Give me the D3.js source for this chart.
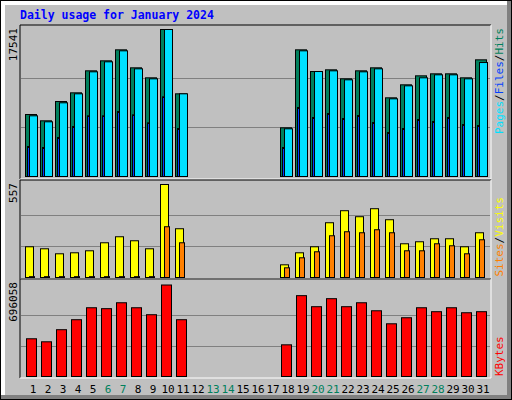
<!DOCTYPE html>
<html><head><meta charset="utf-8">
<script src="https://cdn.jsdelivr.net/npm/d3@7"></script>
<style>body{margin:0;background:#fff}text{font-family:"DejaVu Sans Mono",monospace}</style>
</head><body><div id="chart"></div>
<script>
// daily values, null = no data
const days = d3.range(1, 32);
const weekends = [6, 7, 13, 14, 20, 21, 27, 28];
const hits = [7397,6645,8948,9985,12610,13803,15115,12968,11775,17541,9866,null,null,null,null,null,null,5810,15115,12527,12729,11656,12610,12968,9389,10940,12013,12252,12252,11775,13922];
const files = [7241,6526,8792,9866,12491,13684,14996,12849,11656,17541,9866,null,null,null,null,null,null,5691,14996,12527,12610,11536,12491,12849,9270,10820,11775,12133,12133,11656,13600];
const pages = [3579,3460,4653,5965,7241,7241,7755,7361,6406,9508,5726,null,null,null,null,null,null,3460,8232,7039,7516,6919,7277,6442,5249,5726,6800,6562,7039,6204,6084];
const visits = [184,172,142,148,160,208,244,220,172,557,292,null,null,null,null,null,null,76,148,184,328,400,364,412,346,202,214,232,232,184,268];
const sites = [5,5,5,5,5,5,5,5,5,304,208,null,null,null,null,null,null,58,118,154,250,274,268,286,268,160,160,202,190,142,226];
const kbytes = [287000,264000,356000,432000,523000,516000,561000,523000,470000,696058,432000,null,null,null,null,null,null,241000,615000,531000,592000,531000,561000,500000,401000,447000,523000,493000,523000,485000,493000];

const W = 512, H = 400;
const svg = d3.select("#chart").append("svg").attr("width", W).attr("height", H);

// outer frame with bevel
svg.append("rect").attr("width", W).attr("height", H).attr("fill", "#000");
svg.append("rect").attr("x", 1).attr("y", 1).attr("width", W - 2).attr("height", H - 2).attr("fill", "#808080");
svg.append("rect").attr("x", 1).attr("y", 1).attr("width", W - 6).attr("height", H - 6).attr("fill", "#fff");
svg.append("rect").attr("x", 5).attr("y", 5).attr("width", W - 10).attr("height", H - 10).attr("fill", "#c0c0c0");

svg.append("text").attr("x", 20).attr("y", 19).attr("fill", "#0000ff")
  .attr("font-size", 11.5).attr("font-weight", "bold").text("Daily usage for January 2024");

const x = d3.scaleLinear().domain([1, 31]).range([33, 483]);

const panels = [
  { top: 25, bottom: 179, base: 176, max: 17541, label: "17541" },
  { top: 180, bottom: 279, base: 277, max: 557, label: "557" },
  { top: 279, bottom: 378, base: 376, max: 696058, label: "696058" }
];
panels.forEach(p => {
  p.y = d3.scaleLinear().domain([0, p.max]).range([p.base, p.base - 92 * (p === panels[0] ? 1.6 : 1)]);
});
panels[0].y.range([176, 29]);
panels[1].y.range([277, 184]);
panels[2].y.range([376, 284.5]);

panels.forEach(p => {
  const g = svg.append("g");
  g.append("line").attr("x1", 20).attr("x2", 491).attr("y1", p.top).attr("y2", p.top).attr("stroke", "#000");
  g.append("line").attr("x1", 20).attr("x2", 20).attr("y1", p.top).attr("y2", p.bottom).attr("stroke", "#000");
  g.append("line").attr("x1", 20).attr("x2", 491).attr("y1", p.bottom).attr("y2", p.bottom).attr("stroke", "#fff");
  g.append("line").attr("x1", 491).attr("x2", 491).attr("y1", p.top).attr("y2", p.bottom).attr("stroke", "#fff");
  [1 / 3, 2 / 3].forEach(f => {
    const yy = Math.round(p.y(p.max * f)) + 0.5;
    g.append("line").attr("x1", 21).attr("x2", 490).attr("y1", yy).attr("y2", yy).attr("stroke", "#808080");
  });
  g.append("text").attr("transform", `translate(17,${p.top + 3}) rotate(-90)`)
    .attr("text-anchor", "end").attr("font-size", 11).attr("fill", "#000").text(p.label);
});

function bars(panel, data, dx0, dx1, color) {
  const y = panel.y;
  svg.append("g").selectAll("rect")
    .data(days.filter((d, i) => data[i] != null))
    .join("rect")
    .attr("x", d => x(d) + dx0 + 0.5)
    .attr("width", dx1 - dx0)
    .attr("y", d => y(data[d - 1]) + 0.5)
    .attr("height", d => panel.base - y(data[d - 1]))
    .attr("fill", color).attr("stroke", "#000");
}
bars(panels[0], hits, -8, 3, "#00805c");
bars(panels[0], files, -4, 4, "#00e0ff");
bars(panels[0], pages, -6, -4, "#0040ff");
bars(panels[1], visits, -8, 0, "#ffff00");
bars(panels[1], sites, -4, 1, "#ff8000");
bars(panels[2], kbytes, -7, 3, "#ff0000");

// day labels
svg.append("g").selectAll("text").data(days).join("text")
  .attr("x", d => x(d)).attr("y", 393).attr("text-anchor", "middle")
  .attr("font-size", 11).attr("fill", d => weekends.includes(d) ? "#00805c" : "#000").text(d => d);

// right side legends
function legend(parts, xPos, yPos, anchor) {
  const t = svg.append("text").attr("transform", `translate(${xPos},${yPos}) rotate(-90)`)
    .attr("text-anchor", anchor).attr("font-size", 11);
  parts.forEach(([s, c]) => t.append("tspan").attr("fill", c).text(s));
}
legend([["Pages", "#00e0ff"], ["/", "#000"], ["Files", "#0040ff"], ["/", "#000"], ["Hits", "#00805c"]], 503, 28, "end");
legend([["Sites", "#ff8000"], ["/", "#000"], ["Visits", "#ffff00"]], 503, 197, "end");
legend([["KBytes", "#ff0000"]], 503, 376, "start");
</script></body></html>
